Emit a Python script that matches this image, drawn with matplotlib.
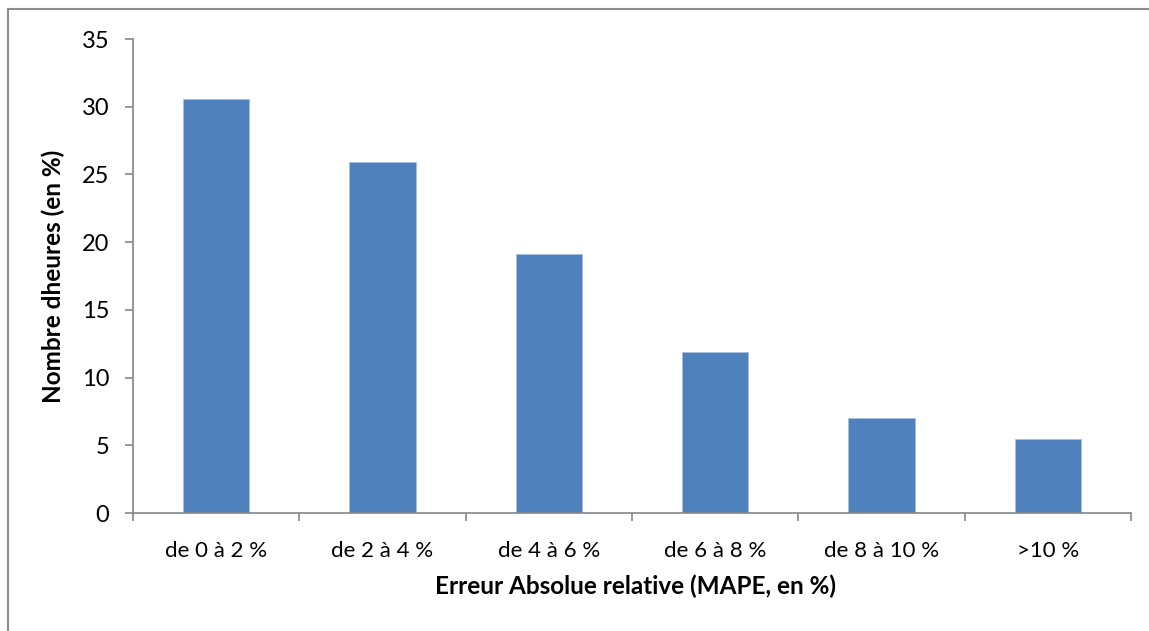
import numpy as np
import matplotlib.pyplot as plt
from matplotlib.lines import Line2D

categories = ['de 0 à 2 %', 'de 2 à 4 %', 'de 4 à 6 %', 'de 6 à 8 %', 'de 8 à 10 %', '>10 %']
values = [30.6, 25.9, 19.1, 11.9, 7.0, 5.5]
yticks = [0, 5, 10, 15, 20, 25, 30, 35]

plt.rcParams['font.family'] = ['Lato', 'DejaVu Sans']

fig = plt.figure(figsize=(11.49, 6.31), dpi=100)
ax = fig.add_axes([133 / 1149, 1 - 513 / 631, 998 / 1149, 474 / 631])

x = np.arange(len(categories))
ax.bar(x, values, width=0.4, color='#4F81BD', edgecolor='#A7BFDE', linewidth=0.6, zorder=2)

ax.set_xlim(-0.5, len(categories) - 0.5)
ax.set_ylim(0, 35)
ax.set_yticks(yticks)
ax.set_xticks(x)
ax.set_xticklabels(categories)
ax.set_xticks(np.arange(-0.5, len(categories), 1), minor=True)

grey = '#868686'
for s in ['top', 'right']:
    ax.spines[s].set_visible(False)
for s in ['left', 'bottom']:
    ax.spines[s].set_color(grey)
    ax.spines[s].set_linewidth(1.2)

ax.tick_params(axis='y', direction='out', length=6, width=1.2, color=grey, labelsize=17, pad=11)
ax.tick_params(axis='x', which='major', length=0, labelsize=16, pad=20)
ax.tick_params(axis='x', which='minor', direction='out', length=6, width=1.2, color=grey)

ax.set_xlabel('Erreur Absolue relative (MAPE, en %)', fontsize=17.5, fontweight='bold')
ax.set_ylabel('Nombre dheures (en %)', fontsize=17.5, fontweight='bold')
ax.xaxis.set_label_coords(0.5035, -0.13)
ax.yaxis.set_label_coords(-0.068, 0.5)

# outer chart frame (only left and top edges visible)
fig.add_artist(Line2D([8 / 1149, 8 / 1149], [0, 1 - 9 / 631], transform=fig.transFigure, color='#8c8c8c', lw=1.5))
fig.add_artist(Line2D([8 / 1149, 1], [1 - 9 / 631, 1 - 9 / 631], transform=fig.transFigure, color='#8c8c8c', lw=1.5))

fig.savefig('out.png', dpi=100)
